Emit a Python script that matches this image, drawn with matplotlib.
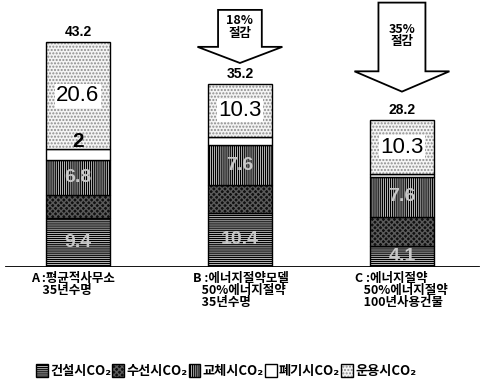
import matplotlib
matplotlib.use("Agg")
import matplotlib.pyplot as plt
from matplotlib.patches import Patch, Polygon
import numpy as np

plt.rcParams['font.family'] = ['Noto Sans CJK KR', 'DejaVu Sans']
plt.rcParams['hatch.linewidth'] = 1.0

# ---- data ----
categories = ['A', 'B', 'C']
cat_labels = ['A :평균적사무소\n    35년수명',
              'B :에너지절약모델\n   50%에너지절약\n   35년수명',
              'C :에너지절약\n   50%에너지절약\n   100년사용건물']
construction = [9.4, 10.4, 4.1]   # 건설시CO2
repair = [4.4, 5.4, 5.6]          # 수선시CO2
replacement = [6.8, 7.6, 7.6]     # 교체시CO2
disposal = [2.0, 1.5, 0.6]        # 폐기시CO2
operation = [20.6, 10.3, 10.3]    # 운용시CO2
totals = [43.2, 35.2, 28.2]
reductions = ['', '18%', '35%']
disposal_labels = ['2', '', '']
series_names = ['건설시CO₂', '수선시CO₂', '교체시CO₂', '폐기시CO₂', '운용시CO₂']

styles = [
    dict(facecolor='white', hatch='--------', hatchcolor='black'),
    dict(facecolor='#101010', hatch='xxxxxx', hatchcolor='#5a5a5a'),
    dict(facecolor='white', hatch='||||||||', hatchcolor='black'),
    dict(facecolor='white', hatch='', hatchcolor='white'),
    dict(facecolor='#f4f4f4', hatch='.....', hatchcolor='#8c8c8c'),
]

fig = plt.figure(figsize=(4.81, 3.91), dpi=100)
ax = fig.add_axes([0, 0.317, 1, 0.683])
ax.set_xlim(-0.481, 2.488)
ax.set_ylim(0, 51.3)
ax.axis('off')

x = np.arange(len(categories))
width = 0.40
series = [construction, repair, replacement, disposal, operation]
bottom = np.zeros(len(categories))
for vals, st in zip(series, styles):
    vals = np.array(vals)
    ax.bar(x, vals, width, bottom=bottom, color=st['facecolor'],
           hatch=st['hatch'], edgecolor=st['hatchcolor'], linewidth=0)
    ax.bar(x, vals, width, bottom=bottom, fill=False, edgecolor='black', linewidth=1.0)
    bottom += vals

# segment labels
cum_constr = np.array(construction)
cum_rep = cum_constr + np.array(repair)
cum_repl = cum_rep + np.array(replacement)
cum_disp = cum_repl + np.array(disposal)
for i in range(len(categories)):
    ax.text(x[i], cum_disp[i] + operation[i] / 2, f'{operation[i]}', ha='center', va='center',
            fontsize=16, family='Liberation Sans',
            bbox=dict(facecolor='white', edgecolor='none', pad=1))
    if disposal_labels[i]:
        ax.text(x[i], cum_disp[i] + 1.5, disposal_labels[i], ha='center', va='center',
                fontsize=15, family='Liberation Sans', fontweight='bold')
    ax.text(x[i], cum_rep[i] + replacement[i] / 2, f'{replacement[i]}', ha='center', va='center',
            fontsize=14, family='Liberation Sans', fontweight='bold', color='#c8c8c8')
    ax.text(x[i], construction[i] / 2, f'{construction[i]}', ha='center', va='center',
            fontsize=14, family='Liberation Sans', fontweight='bold', color='#c8c8c8')
    ax.text(x[i], totals[i] + 1.9, f'{totals[i]}', ha='center', va='center',
            fontsize=10, family='Liberation Sans', fontweight='bold')

# reduction arrows
arrow_params = {1: (49.4, 4.0, 7.1, 0.135, 0.262), 2: (50.8, 5.5, 9.4, 0.145, 0.293)}
for i, (top, tipoff, headoff, hw, hhw) in arrow_params.items():
    tip = totals[i] + tipoff
    hb = totals[i] + headoff
    xc = x[i]
    pts = [(xc - hw, top), (xc + hw, top), (xc + hw, hb), (xc + hhw, hb), (xc, tip),
           (xc - hhw, hb), (xc - hw, hb)]
    ax.add_patch(Polygon(pts, closed=True, facecolor='white', edgecolor='black', linewidth=1.3))
    ax.text(xc, (top + hb) / 2 + 0.3, f'{reductions[i]}\n절감', ha='center', va='center',
            fontsize=9, fontweight='heavy', linespacing=0.95,
            family=['Noto Sans CJK KR', 'DejaVu Sans'])

# baseline
ax.axhline(0, xmin=0.012, xmax=0.995, color='black', linewidth=1.3)

# category labels
for i in range(len(categories)):
    ax.text(x[i] - 0.29, -0.9, cat_labels[i], ha='left', va='top', fontsize=9,
            fontweight='heavy', linespacing=0.9, family=['Noto Sans CJK KR', 'DejaVu Sans'])

# legend
handles = []
for st in styles:
    h1 = Patch(facecolor=st['facecolor'], hatch=st['hatch'], edgecolor=st['hatchcolor'], linewidth=0)
    h2 = Patch(fill=False, edgecolor='black', linewidth=1.0)
    handles.append((h1, h2))
fig.legend(handles, series_names, loc='center', bbox_to_anchor=(0.47, 0.052), ncol=5,
           frameon=False, handlelength=0.9, handleheight=1.2, handletextpad=0.15,
           columnspacing=0.1, prop=dict(family=['Noto Sans CJK KR', 'DejaVu Sans'],
                                        weight='heavy', size=9.5))

fig.savefig('out.png', dpi=100)
